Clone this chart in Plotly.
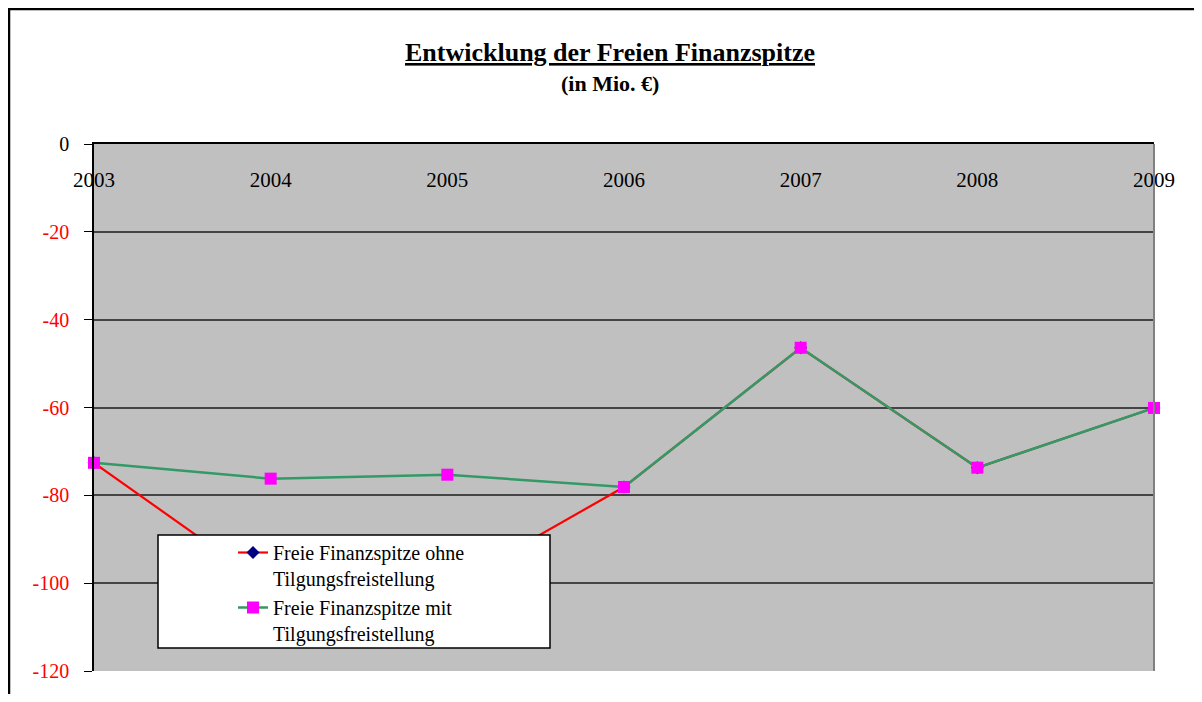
import plotly.graph_objects as go

years = [2003, 2004, 2005, 2006, 2007, 2008, 2009]
ohne = [-72.6, -101.1, -101.0, -78.1, -46.4, -73.7, -60.1]
mit = [-72.6, -76.2, -75.3, -78.1, -46.4, -73.7, -60.1]
y_ticks = [0, -20, -40, -60, -80, -100, -120]
y_ticktext = ["<span style='color:black'>0</span>", "-20", "-40", "-60", "-80", "-100", "-120"]
name_ohne = "Freie Finanzspitze ohne<br>Tilgungsfreistellung"
name_mit = "Freie Finanzspitze mit<br>Tilgungsfreistellung"

OFF = 8  # page body margin
W, H = 1186, 686
L, T = 94 - OFF, 144 - OFF
pw, ph = 1154 - 94, 671 - 144
R = W - L - pw
B = H - T - ph

def px_x(x):  # page px -> paper
    return (x - OFF - L) / pw

def px_y(y):
    return (T + ph - (y - OFF)) / ph

fig = go.Figure()
fig.add_trace(go.Scatter(
    x=years, y=ohne, name=name_ohne, mode="lines+markers",
    line=dict(color="#FF0000", width=2.2),
    marker=dict(symbol="diamond", color="#000080", size=10),
    cliponaxis=False,
))
fig.add_trace(go.Scatter(
    x=years, y=mit, name=name_mit, mode="lines+markers",
    line=dict(color="#339966", width=2.5),
    marker=dict(symbol="square", color="#FF00FF", size=12),
    cliponaxis=False,
))

font = "Liberation Serif, Times New Roman, serif"

fig.update_layout(
    width=W, height=H,
    margin=dict(l=L, r=R, t=T, b=B),
    paper_bgcolor="white",
    plot_bgcolor="#C0C0C0",
    font=dict(family=font, size=21, color="black"),
    showlegend=True,
    legend=dict(
        x=px_x(233), y=px_y(533), xanchor="left", yanchor="top",
        bgcolor="rgba(0,0,0,0)", borderwidth=0, valign="top",
        font=dict(family=font, size=20, color="black"),
        tracegroupgap=0,
    ),
    annotations=[
        dict(text="<b><u>Entwicklung der Freien Finanzspitze</u></b>",
             xref="paper", yref="paper", x=px_x(610), y=px_y(52),
             xanchor="center", yanchor="middle", showarrow=False,
             font=dict(family=font, size=26, color="black")),
        dict(text="<b>(in Mio. €)</b>",
             xref="paper", yref="paper", x=px_x(610), y=px_y(83),
             xanchor="center", yanchor="middle", showarrow=False,
             font=dict(family=font, size=22, color="black")),
    ],
    shapes=[
        dict(type="rect", xref="paper", yref="paper",
             x0=px_x(158), x1=px_x(550), y0=px_y(648), y1=px_y(535),
             fillcolor="white", line=dict(color="black", width=1.5), layer="above"),
        dict(type="line", xref="paper", yref="paper",
             x0=px_x(9), x1=px_x(9), y0=px_y(8), y1=px_y(720),
             line=dict(color="black", width=2.5)),
        dict(type="line", xref="paper", yref="paper",
             x0=px_x(8), x1=px_x(1230), y0=px_y(9), y1=px_y(9),
             line=dict(color="black", width=2.5)),
        dict(type="line", xref="paper", yref="paper",
             x0=1, x1=1, y0=0, y1=1,
             line=dict(color="#808080", width=2)),
    ],
)

fig.update_xaxes(
    range=[2003, 2009], tickvals=years, ticktext=[str(y) for y in years],
    side="top", ticklabelposition="inside", ticklabeloverflow="allow",
    ticklabelstandoff=30,
    showgrid=False, zeroline=False,
    showline=True, linecolor="black", linewidth=1.5, ticks="",
    tickfont=dict(family=font, size=21, color="black"),
)
fig.update_yaxes(
    range=[-120, 0], tickvals=y_ticks, ticktext=y_ticktext,
    showgrid=True, gridcolor="#444444", gridwidth=1.5, zeroline=False,
    showline=True, linecolor="black", linewidth=1.5,
    ticks="outside", ticklen=8, tickcolor="black",
    ticklabelstandoff=11, ticklabeloverflow="allow",
    tickfont=dict(family=font, size=20, color="#FF0000"),
)

fig.write_html("out.html")
